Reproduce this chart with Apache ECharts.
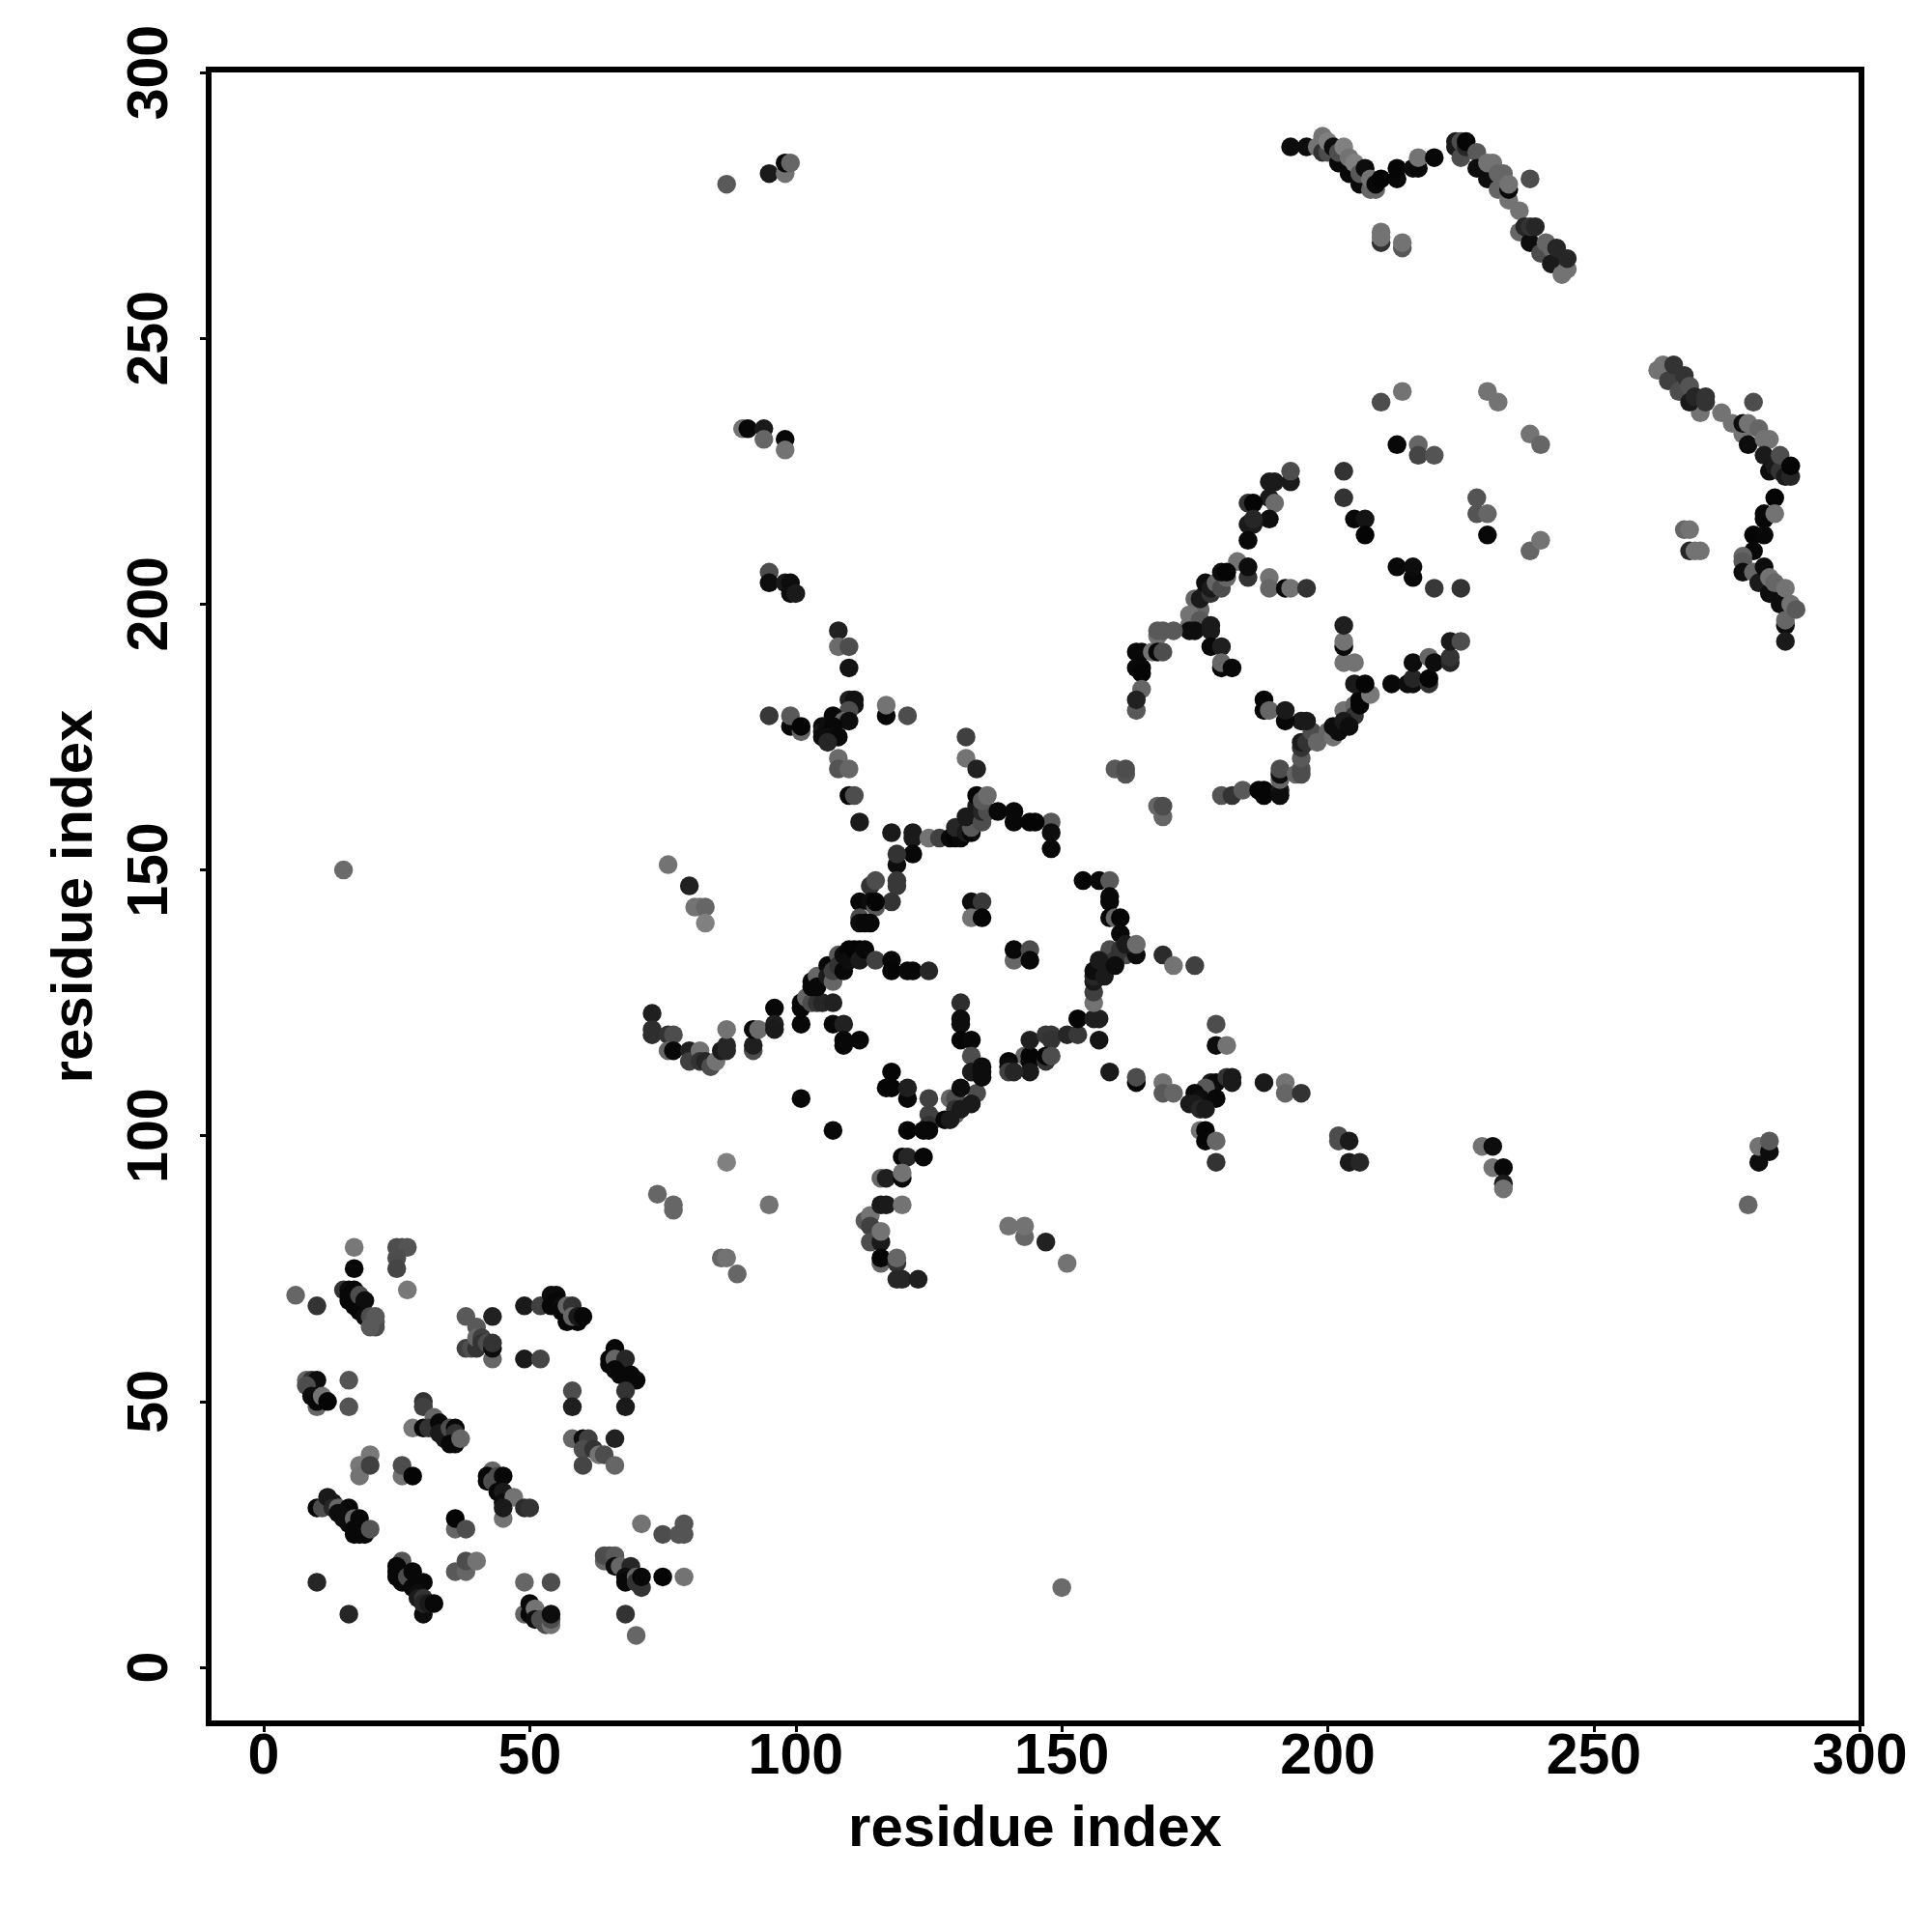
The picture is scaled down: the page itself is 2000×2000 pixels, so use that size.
<!DOCTYPE html>
<html><head><meta charset="utf-8">
<style>html,body{margin:0;padding:0;background:#fff}#c{width:2000px;height:2000px}</style>
<script src="https://cdn.jsdelivr.net/npm/echarts@6/dist/echarts.min.js"></script>
</head><body><div id="c"></div>
<script>
// every contact: [residue x, residue y, darkness level 0..1]
const tickValues = [0,50,100,150,200,250,300];
const axisTitle = "residue index";
const clusterLowLeftA = [[6,70,.4],[10,68,.2],[17,79,.47],[17,75,.03],[25,79,.3],[26,79,.3],[27,79,.33],[25,77,.3],[25,75,.27],[27,71,.47],
[15,71,.2],[16,71,.05],[17,71,.03],[16,70,.03],[16,69,.03],[17,69,.03],[17,68,.03],[18,68,.03],[18,70,.3],[18,67,.03],[19,69,.05],[19,66,.05],[20,66,.3],[21,65,.35],[21,64,.3],[20,64,.35],[21,66,.35],
[38,66,.35],[43,66,.13],[40,64,.35],[38,60,.25],[39,60,.3],[40,60,.2],[40,62,.4],[41,62,.25],[41,61,.2],[42,61,.3],[43,58,.4],[43,60,.05],[43,61,.2],
[49,68,.1],[52,68,.25],[54,70,.05],[55,70,.05],[54,68,.03],[55,69,.03],[56,68,.05],[56,67,.03],[57,65,.03],[59,65,.03],[57,68,.4],[58,68,.2],[58,66,.4],[59,66,.1],[60,66,.03],
[49,58,.1],[52,58,.27],[66,60,.03],[65,58,.03],[65,57,.03],[66,58,.4],[68,58,.15],[66,56,.03],[67,55,.03],[69,55,.03],[69,54,.03],[70,54,.03],[68,52,.2],[68,49,.1],
[58,52,.3],[58,49,.12],[58,43,.4],[60,43,.05],[61,43,.25],[66,43,.13],[60,41,.3],[62,41,.2],[63,40,.45],[64,40,.3],[60,38,.27],[66,38,.4]];
const clusterLowLeftB = [[8,54,.4],[9,54,.2],[10,54,.05],[8,53,.3],[9,51,.05],[10,49,.4],[10,50,.03],[11,51,.45],[12,50,.02],[16,54,.33],[16,49,.33],
[30,50,.2],[30,49,.25],[28,45,.47],[32,47,.4],[30,45,.03],[31,45,.2],[33,46,.03],[33,44,.1],[34,43,.1],[35,45,.3],[36,45,.03],[36,44,.2],[35,42,.03],[36,42,.03],[37,43,.4],
[18,38,.47],[18,36,.45],[20,40,.47],[20,38,.25],[26,36,.45],[26,38,.3],[28,36,.02],
[43,37,.4],[42,36,.03],[42,35,.03],[43,35,.3],[44,36,.3],[45,36,.03],[44,33,.03],[45,33,.1],[46,32,.1],[45,31,.05],[47,32,.45],[45,28,.45],[45,30,.1],[49,30,.17],[50,30,.2],
[10,30,.03],[11,30,.3],[12,32,.1],[13,31,.1],[13,30,.15],[14,30,.4],[16,30,.03],[14,29,.05],[15,28,.05],[16,27,.05],[17,28,.4],[18,28,.03],[17,26,.03],[18,26,.03],[17,25,.03],[18,25,.03],[19,25,.03],[20,26,.33],
[36,26,.4],[36,28,.02],[38,26,.3],[71,27,.45],[75,25,.3],[78,25,.33],[79,27,.33],[79,25,.33]];
const clusterLowLeftC = [[64,20,.4],[64,21,.3],[65,21,.3],[66,21,.35],[66,19,.05],[67,19,.4],[69,19,.15],[68,17,.05],[68,16,.03],[70,17,.4],[70,16,.2],[71,15,.2],[71,17,.03],[75,17,.02],[79,17,.45],[68,10,.2],[70,6,.4],
[10,16,.15],[16,10,.15],[26,20,.33],[25,19,.03],[25,18,.03],[25,17,.03],[26,16,.03],[27,17,.3],[28,18,.03],[28,15,.03],[30,16,.03],[29,14,.05],[29,13,.1],[30,13,.2],[30,10,.05],[30,12,.15],[31,12,.1],[32,12,.03],
[36,18,.35],[38,18,.4],[38,20,.3],[40,20,.45],[49,16,.4],[54,16,.3],[49,10,.4],[50,12,.03],[50,10,.03],[51,11,.45],[51,9,.05],[52,9,.3],[53,8,.3],[54,8,.45],[54,9,.3],[54,10,.05]];
const clusterMidLeft = [[76,151,.45],[80,147,.13],[81,143,.45],[82,143,.45],[83,143,.4],[83,140,.5],[87,95,.5],[74,89,.4],[77,87,.4],[77,86,.4],[95,87,.45],[86,77,.4],[87,77,.45],[89,74,.4],[15,150,.42],[150,15,.42],
[73,123,.12],[73,120,.18],[73,119,.18],[76,119,.2],[77,119,.3],[76,116,.4],[77,116,.03],[80,116,.13],[80,114,.25],[82,116,.45],[82,114,.2],[83,114,.15],[84,113,.3],[85,114,.45],[86,116,.1],[87,117,.15],[87,116,.15],[87,120,.45],
[92,116,.3],[92,117,.12],[92,120,.03],[93,120,.42],[96,124,.03],[96,121,.12],[96,120,.1],[101,121,.03],[101,125,.03],[101,124,.03],[102,126,.4],[103,125,.3],[104,125,.2],[105,125,.15],[107,125,.13],
[103,129,.03],[103,128,.03],[104,130,.4],[104,128,.03],[106,132,.03],[106,130,.1],[107,129,.4],[107,131,.25],[108,134,.35],[108,132,.2],[109,131,.03],[109,134,.05],[110,135,.02],[110,133,.05],[111,135,.02],[112,135,.02],[112,133,.1],[113,135,.03],[115,133,.25],
[118,133,.03],[118,131,.02],[121,131,.03],[122,131,.03],[125,131,.15],[107,121,.03],[109,121,.13],[109,118,.03],[109,117,.03],[112,118,.03],[101,107,.03],[107,101,.03]];
const clusterMidCentre = [[129,107,.4],[130,104,.4],[126,103,.4],[130,107,.3],[134,108,.3],[125,107,.25],[125,104,.25],[130,105,.2],[125,102,.2],
[118,112,.02],[117,109,.02],[118,109,.02],[121,107,.03],[121,109,.12],[121,101,.02],[124,101,.03],[125,101,.03],[120,96,.02],[121,96,.15],[124,96,.03],[116,92,.4],[117,92,.12],[120,92,.03],[120,93,.45],
[112,159,.1],[118,157,.1],[122,157,.1],[122,156,.1],[122,153,.03],[119,151,.05],[119,153,.2],[114,147,.2],[115,148,.3],[119,147,.22],[119,148,.22],[118,144,.2],[112,144,.03],[114,144,.05],[115,143,.35],[115,144,.02],[112,141,.3],[112,140,.05],[113,140,.03],[114,140,.03],
[133,144,.05],[135,144,.22],[133,141,.45],[135,141,.02],[141,133,.4],[141,135,.03],[144,135,.3],[144,133,.03],
[131,125,.18],[131,122,.05],[131,121,.05],[131,118,.02],[133,118,.03],[133,115,.3],[133,112,.1],[135,113,.05],[135,112,.05],[135,111,.05],[131,109,.05],[133,106,.1],[131,105,.1],[128,103,.03],[129,103,.1],
[143,115,.4],[144,115,.02],[144,114,.02],[144,112,.1],[140,114,.03],[140,113,.05],[140,112,.25],[141,112,.15],[144,118,.12],[147,119,.22],[148,119,.22],[148,118,.2],[147,114,.2],[147,115,.02],[148,115,.3],[151,119,.15],[153,119,.22],[153,122,.02],[156,122,.12],[157,122,.12],[157,118,.08],
[113,84,.35],[114,85,.45],[116,87,.1],[117,87,.1],[120,87,.45],[114,83,.25],[114,80,.3],[116,80,.1],[116,82,.45],[116,76,.4],[116,77,.02],[119,76,.2],[119,77,.4],[119,73,.15],[120,73,.15],[123,73,.12],[140,83,.45],[143,81,.4],[143,83,.45],[147,80,.13],[151,76,.45]];
const clusterMidRight = [[159,112,.1],[164,110,.02],[164,111,.3],[169,110,.45],[169,108,.35],[171,108,.4],[178,110,.1],[179,110,.03],[181,111,.2],[182,111,.1],[182,110,.1],[178,109,.05],[177,109,.35],[175,108,.03],[176,107,.05],[179,107,.03],[174,106,.1],[175,106,.1],[176,105,.15],[177,105,.1],[176,101,.45],[177,101,.02],[177,99,.02],[179,99,.4],[179,95,.2],[179,117,.05],[181,117,.45],[179,121,.3],
[202,100,.3],[202,99,.3],[204,99,.1],[204,95,.1],[206,95,.15],[188,110,.1],[192,110,.45],[192,108,.4],[195,108,.2],[229,98,.45],[231,98,.05],[231,94,.45],[233,94,.03],[233,91,.1],[233,90,.45],[279,87,.4],[281,95,.05],[281,98,.45],[283,97,.05],[283,99,.35],
[148,159,.35],[148,157,.05],[148,154,.03],[154,148,.02],[157,148,.03],[159,148,.35],[159,145,.03],[159,144,.03],[159,141,.03],[160,141,.4],[161,141,.02],[161,138,.03],
[156,125,.45],[156,127,.25],[159,132,.4],[159,135,.3],[162,134,.3],[158,131,.25],[161,135,.2],[160,133,.2],[156,129,.1],[156,130,.15],[156,131,.05],[158,130,.1],[157,133,.1],[160,132,.05],[164,134,.05],[162,136,.1],[164,136,.42],[169,134,.17],[171,132,.45],[175,132,.25]];
const clusterUpperLeft = [[87,279,.35],[95,281,.1],[98,281,.45],[98,283,.03],[99,283,.4],[90,233,.45],[91,233,.03],[94,233,.1],[94,231,.4],[98,231,.03],[98,229,.45],[95,206,.3],[95,204,.05],[98,204,.1],[99,204,.05],[99,202,.05],[100,202,.1],
[95,179,.22],[99,177,.03],[99,179,.35],[101,176,.4],[101,177,.02],[108,195,.13],[108,192,.42],[110,192,.3],[110,188,.08],[110,182,.12],[111,182,.07],[111,181,.07],[110,180,.3],[107,179,.03],[109,178,.4],[110,178,.05],[105,177,.05],[105,176,.1],[106,177,.05],[107,177,.03],[105,175,.05],[106,175,.05],[107,175,.05],[108,175,.03],[106,174,.15],
[108,171,.42],[108,169,.33],[110,169,.4],[110,164,.03],[111,164,.3],[117,179,.03],[117,181,.45],[121,179,.3],[132,175,.25],[132,171,.45],[134,169,.13],
[125,156,.45],[127,156,.25],[129,156,.03],[130,156,.02],[131,156,.03],[130,158,.15],[132,157,.1],[133,157,.03],[133,158,.35],[132,160,.1],[135,159,.3],[134,162,.1],[135,161,.15],[136,161,.3],[134,164,.02],[135,163,.35],[136,164,.42],[138,161,.03],[141,159,.03],[141,161,.03],[144,159,.02],[145,159,.02]];
const clusterRightLoop = [[160,169,.35],[162,168,.33],[162,169,.3],[168,162,.4],[169,160,.4],[169,162,.3],[180,164,.33],[182,164,.2],[184,165,.35],[187,165,.02],[188,165,.02],[188,164,.02],[191,165,.1],[191,164,.05],[191,167,.4],[191,168,.05],[191,169,.3],[194,168,.4],[195,168,.3],[195,169,.3],[195,171,.35],[195,173,.2],[195,174,.1],[196,174,.2],[197,176,.3],[198,174,.4],[195,178,.1],[196,178,.1],
[188,182,.02],[188,180,.02],[189,180,.4],[192,178,.03],[192,180,.1],[200,176,.4],[201,175,.45],[203,180,.45],[205,181,.4],[205,179,.2],[201,177,.05],[202,176,.05],[203,178,.1],[204,177,.05],[206,181,.02],[206,182,.02],[208,183,.47],[205,185,.1],[207,185,.02],
[203,189,.45],[205,189,.45],[203,192,.03],[203,193,.45],[203,196,.12],[212,185,.03],[215,185,.05],[216,185,.05],[216,186,.15],[219,185,.2],[219,186,.02],[216,189,.05],[219,190,.4],[220,189,.05],[223,189,.15],[223,190,.2],[223,193,.1],[225,193,.3],
[189,205,.45],[189,203,.4],[192,203,.03],[193,203,.45],[196,203,.2],[213,207,.03],[216,205,.03],[216,207,.05],[220,203,.22],[225,203,.2],[228,220,.33],[228,217,.33],[230,217,.4],[230,213,.03],[213,230,.03],[217,230,.4],[217,228,.27],[220,228,.33],[203,225,.2],[203,220,.2],[205,216,.03],[207,216,.08],[207,213,.02],
[210,238,.3],[214,240,.45],[230,240,.45],[232,238,.45],[238,232,.45],[240,230,.4],[238,210,.4],[240,212,.45],
[193,223,.1],[193,225,.3],[189,223,.1],[190,223,.1],[189,220,.1],[190,219,.42],[185,219,.2],[186,219,.02],[189,216,.05],[185,215,.1],[186,215,.1],[186,216,.15],[185,212,.03],[183,208,.45],[185,205,.2],[185,207,.05],
[175,201,.4],[176,199,.4],[174,198,.45],[174,196,.45],[176,197,.35],[174,195,.05],[175,195,.05],[176,201,.1],[177,202,.1],[178,202,.2],[177,204,.05],[178,203,.1],[179,204,.4],[180,203,.3],[181,205,.4],[180,206,.05],[181,206,.02],[178,196,.1],[178,195,.1],[178,192,.03],[180,192,.12],[180,188,.03],[180,189,.4],[182,188,.03],
[168,194,.45],[168,195,.35],[169,195,.35],[171,195,.35],[164,191,.03],[165,191,.03],[167,191,.45],[168,191,.03],[169,191,.3],[164,188,.03],[165,188,.03],[165,187,.02],[165,184,.4],[164,180,.35],[164,182,.13]];
const clusterTopRight = [[193,286,.05],[196,286,.05],[198,286,.45],[199,288,.45],[199,285,.2],[200,285,.3],[200,287,.5],[201,286,.05],[202,283,.03],[202,285,.3],[203,286,.5],[204,281,.03],[204,284,.45],[205,283,.5],[206,279,.03],[206,281,.35],[207,282,.05],[208,278,.4],[208,280,.45],[209,278,.4],[209,279,.03],[210,280,.02],
[210,268,.2],[210,269,.45],[210,270,.45],[214,267,.35],[214,268,.45],[213,280,.03],[213,282,.02],[216,282,.05],[217,282,.03],[217,284,.45],[220,284,.03],
[224,286,.1],[224,287,.1],[225,284,.3],[225,287,.3],[226,286,.15],[226,287,.02],[228,285,.35],[228,282,.05],[230,280,.05],[230,283,.45],[231,283,.45],[232,278,.4],[232,281,.4],[233,281,.4],[234,276,.45],[234,278,.03],[234,279,.45],[236,274,.45],[238,280,.3],[236,270,.4],[237,271,.15],[238,268,.05],[238,271,.2],[239,271,.15],[240,266,.3],[241,268,.4],[242,267,.4],[242,264,.1],[243,267,.15],[244,262,.45],[245,263,.45],[245,265,.15]];
const clusterFarRight = [[262,244,.45],[263,245,.45],[264,242,.25],[265,245,.2],[266,240,.3],[267,243,.2],[268,241,.33],[270,236,.45],[268,238,.1],[269,239,.15],[271,239,.2],[271,238,.2],[274,236,.45],[276,234,.45],[278,232,.45],[278,234,.05],[279,234,.45],[280,238,.3],[279,230,.05],[281,233,.4],[282,231,.45],[283,231,.45],[282,228,.1],[283,225,.05],[284,226,.1],[285,225,.2],[285,228,.3],[286,224,.1],[287,224,.15],[287,226,.02],
[284,220,.02],[282,216,.03],[282,217,.03],[284,217,.45],[280,213,.02],[282,213,.03],[280,210,.03],[267,214,.4],[268,214,.45],[268,210,.15],[269,210,.45],[270,210,.45],
[278,209,.4],[278,208,.35],[278,206,.05],[280,206,.4],[281,204,.1],[282,207,.05],[283,202,.05],[283,205,.45],[284,204,.4],[285,200,.05],[286,203,.45],[287,200,.45],[286,196,.05],[286,197,.4],[286,193,.1],[288,199,.35]];

const contacts = [].concat(clusterLowLeftA, clusterLowLeftB, clusterLowLeftC, clusterMidLeft, clusterMidCentre, clusterMidRight, clusterUpperLeft, clusterRightLoop, clusterTopRight, clusterFarRight);

const font = '"Liberation Sans", Arial, sans-serif';
function axis(nameGap, labelMargin, rot){
  return {
    type:'value', name:axisTitle, nameLocation:'middle', nameGap:nameGap,
    nameTextStyle:{fontFamily:font,fontWeight:'bold',fontSize:60,color:'#000'},
    axisLine:{show:false,onZero:false}, splitLine:{show:false},
    axisTick:{show:true,length:9,inside:false,lineStyle:{color:'#000',width:3},customValues:tickValues},
    axisLabel:{show:true,rotate:rot,margin:labelMargin,fontFamily:font,fontWeight:'bold',fontSize:59,color:'#000',customValues:tickValues,hideOverlap:false,showMinLabel:true,showMaxLabel:true}
  };
}
const chart = echarts.init(document.getElementById('c'),null,{renderer:'canvas'});
chart.setOption({
  animation:false, backgroundColor:'#fff',
  grid:{left:216,top:72,width:1711,height:1712,show:true,borderColor:'#000',borderWidth:6,backgroundColor:'transparent',containLabel:false},
  xAxis:Object.assign(axis(80,6,0),{min:-10.35,max:300.3}),
  yAxis:Object.assign(axis(108,30,90),{min:-10.54,max:300.56}),
  series:[{type:'scatter',data:contacts,symbol:'circle',symbolSize:19.5,silent:true,clip:false,
    encode:{x:0,y:1},
    itemStyle:{opacity:1,color:function(p){const g=Math.round(p.value[2]*255);return 'rgb('+g+','+g+','+g+')';}}}]
});
</script></body></html>
